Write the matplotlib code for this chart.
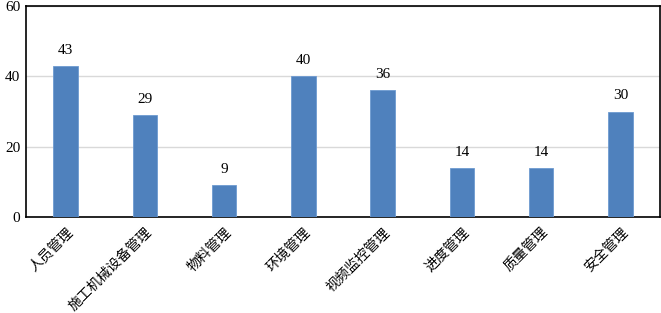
import matplotlib
matplotlib.use("Agg")
import matplotlib.pyplot as plt

categories = ["人员管理", "施工机械设备管理", "物料管理", "环境管理",
              "视频监控管理", "进度管理", "质量管理", "安全管理"]
values = [43, 29, 9, 40, 36, 14, 14, 30]
yticks = [0, 20, 40, 60]

plt.rcParams["font.family"] = ["Liberation Serif", "Noto Sans CJK SC"]

fig = plt.figure(figsize=(6.61, 3.13), dpi=100)
ax = fig.add_axes([26 / 661, 1 - 217 / 313, 634 / 661, 211 / 313])

x = range(len(categories))
bars = ax.bar(x, values, width=0.31, color="#4f81bd", edgecolor="#6d9ad0",
              linewidth=0.6, zorder=3)
for b, v in zip(bars, values):
    ax.text(b.get_x() + b.get_width() / 2, v + 2.6, str(v),
            ha="center", va="bottom", fontsize=11)

ax.set_xlim(-0.5, len(categories) - 0.5)
ax.set_ylim(0, 60)
ax.set_yticks(yticks)
ax.yaxis.grid(True, color="#d9d9d9", linewidth=1, zorder=0)
ax.set_xticks(list(x))
ax.set_xticklabels(categories, rotation=45, ha="right", rotation_mode="anchor",
                   fontsize=10, family=["Noto Sans CJK SC"])
ax.tick_params(axis="both", length=0)
ax.tick_params(axis="x", pad=6)
ax.tick_params(axis="y", pad=4, labelsize=11)
for s in ax.spines.values():
    s.set_color("black")
    s.set_linewidth(1.2)

fig.savefig("out.png", dpi=100)
